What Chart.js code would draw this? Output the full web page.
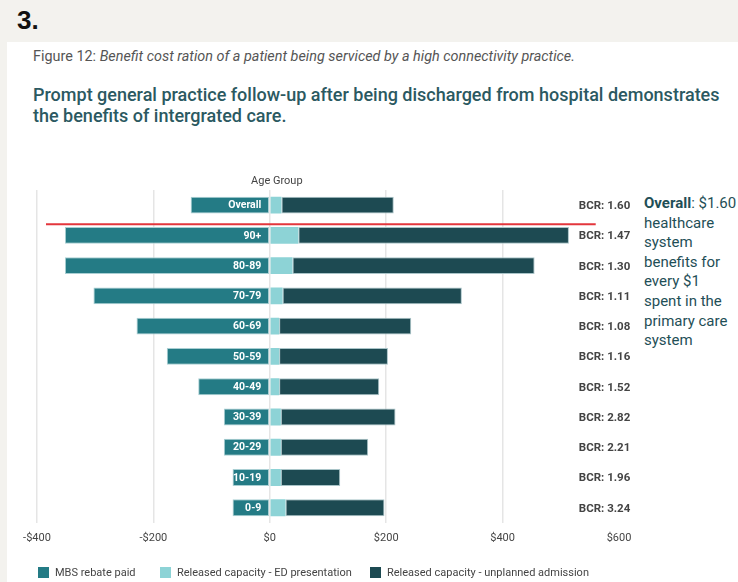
<!DOCTYPE html>
<html>
<head>
<meta charset="utf-8">
<script src="https://cdn.jsdelivr.net/npm/chart.js@4"></script>
<style>
  html, body { margin: 0; padding: 0; }
  body { width: 738px; height: 582px; background: #f3f2ee; position: relative; overflow: hidden; font-family: Roboto, "Noto Sans", sans-serif; }
  .num { position: absolute; left: 17px; top: 5px; font: bold 26px "Liberation Sans", Arial, sans-serif; color: #111; }
  .panel { position: absolute; left: 7px; top: 42px; width: 740px; height: 560px; background: #fff; }
  .cap { position: absolute; left: 33px; top: 48px; font-size: 14.4px; color: #555; }
  .cap i { font-style: italic; }
  .title { position: absolute; left: 33px; top: 84px; width: 700px; font-size: 18px; line-height: 21px; color: #2b5961; font-weight: 500; }
  .note { position: absolute; left: 644px; top: 194px; width: 96px; font-size: 15px; line-height: 19.6px; color: #1f4f57; }
  .note b { font-weight: 700; }
  #wrap { position: absolute; left: 0; top: 165px; width: 738px; height: 417px; }
  .legend { position: absolute; top: 566px; left: 0; width: 738px; height: 14px; font-size: 11px; color: #444; }
  .legend span.item { position: absolute; top: 0; white-space: nowrap; line-height: 13px; }
  .legend span.box { display: inline-block; width: 11px; height: 11px; vertical-align: -2px; margin-right: 6px; }
</style>
</head>
<body>
<div class="num">3.</div>
<div class="panel"></div>
<div class="cap">Figure 12: <i>Benefit cost ration of a patient being serviced by a high connectivity practice.</i></div>
<div class="title">Prompt general practice follow-up after being discharged from hospital demonstrates the benefits of intergrated care.</div>
<div class="note"><b>Overall</b>: $1.60 healthcare system benefits for every $1 spent in the primary care system</div>
<div id="wrap"><canvas id="chart" width="738" height="417"></canvas></div>
<div class="legend" id="legend"></div>
<script>
// ── DATA ─────────────────────────────────────────
const ageGroups = ['Overall', '90+', '80-89', '70-79', '60-69', '50-59', '40-49', '30-39', '20-29', '10-19', '0-9'];
const mbsRebate = [-136, -352, -352, -303, -229, -177, -123, -79, -79, -64, -64];
const edPresentation = [20, 49, 39, 22, 16, 16, 16, 19, 19, 19, 27];
const unplannedAdmission = [193, 465, 416, 308, 227, 187, 172, 197, 150, 102, 170];
const bcrValues = ['1.60', '1.47', '1.30', '1.11', '1.08', '1.16', '1.52', '2.82', '2.21', '1.96', '3.24'];
const xTicks = [-400, -200, 0, 200, 400, 600];

const fmtMoney = v => (v < 0 ? '-$' : '$') + Math.abs(v);

// labels in bars, BCR column, axis title, separator line
const labelPlugin = {
  id: 'labels',
  afterDatasetsDraw(chart) {
    const { ctx, scales: { x, y }, chartArea } = chart;
    const x0 = x.getPixelForValue(0);
    ctx.save();
    ctx.textBaseline = 'middle';
    ageGroups.forEach((g, i) => {
      const py = y.getPixelForValue(i);
      ctx.font = 'bold 10.5px Roboto, sans-serif';
      ctx.fillStyle = '#ffffff';
      ctx.textAlign = 'right';
      ctx.fillText(g, x0 - 8.5, py + 0.5);
      ctx.font = 'bold 11.5px Roboto, sans-serif';
      ctx.fillStyle = '#444';
      ctx.textAlign = 'left';
      ctx.fillText('BCR: ' + bcrValues[i], x.getPixelForValue(531), py + 1);
    });
    ctx.font = '11px Roboto, sans-serif';
    ctx.fillStyle = '#444';
    ctx.textAlign = 'center';
    ctx.fillText('Age Group', x0 + 7, chartArea.top - 9);

    const sepY = (y.getPixelForValue(0) + y.getPixelForValue(1)) / 2 + 4;
    ctx.strokeStyle = '#e3363c';
    ctx.lineWidth = 2;
    ctx.beginPath();
    ctx.moveTo(chartArea.left + 9, sepY);
    ctx.lineTo(x.getPixelForValue(560), sepY);
    ctx.stroke();
    ctx.restore();
  }
};

const chart = new Chart(document.getElementById('chart'), {
  type: 'bar',
  data: {
    labels: ageGroups,
    datasets: [
      { label: 'MBS rebate paid', data: mbsRebate, backgroundColor: '#247b85', borderColor: '#a9cfd3', borderWidth: 1 },
      { label: 'Released capacity - ED presentation', data: edPresentation, backgroundColor: '#8dd3d6', borderWidth: 0 },
      { label: 'Released capacity - unplanned admission', data: unplannedAdmission, backgroundColor: '#1d4a52', borderColor: '#a9c4c8', borderWidth: 1 }
    ]
  },
  options: {
    indexAxis: 'y',
    responsive: false,
    animation: false,
    devicePixelRatio: 1,
    layout: { padding: { left: 37, right: 119, top: 25, bottom: 28 } },
    datasets: { bar: { categoryPercentage: 1, barPercentage: 0.56, borderSkipped: false } },
    plugins: {
      tooltip: { enabled: false },
      legend: { display: false }
    },
    scales: {
      x: {
        stacked: true,
        min: -400, max: 600,
        afterBuildTicks: ax => { ax.ticks = xTicks.map(v => ({ value: v })); },
        grid: { color: c => c.tick && c.tick.value === 600 ? 'rgba(0,0,0,0)' : '#e5e5e5', lineWidth: 1.5, drawTicks: false },
        border: { display: false },
        ticks: { color: '#444', font: { size: 11, family: 'Roboto' }, padding: 9, callback: v => fmtMoney(v) }
      },
      y: { stacked: true, display: false }
    }
  },
  plugins: [labelPlugin]
});

// legend built from the chart's own datasets
const legendLeft = [38, 160, 370];
document.getElementById('legend').innerHTML = chart.data.datasets.map((d, i) =>
  `<span class="item" style="left:${legendLeft[i]}px"><span class="box" style="background:${d.backgroundColor}"></span>${d.label}</span>`
).join('');
</script>
</body>
</html>
